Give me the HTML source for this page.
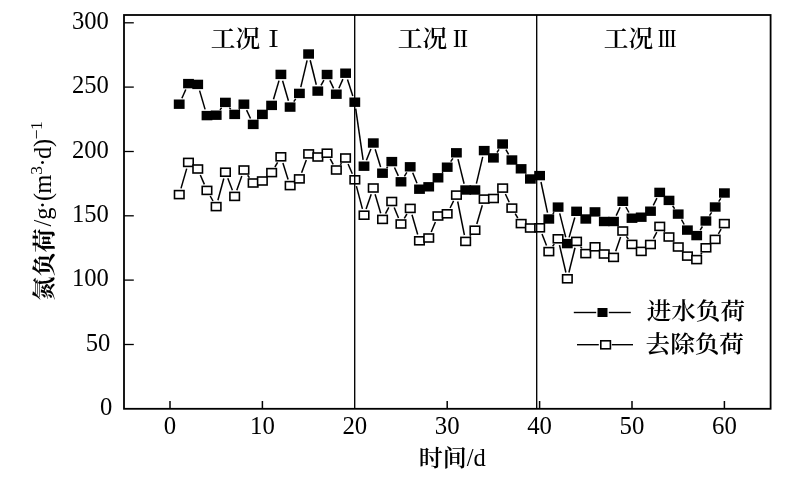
<!DOCTYPE html>
<html lang="zh"><head><meta charset="utf-8"><title>氮负荷</title>
<style>html,body{margin:0;padding:0;background:#fff;}body{width:800px;height:480px;overflow:hidden;}svg{display:block;}text{fill:#000;font-family:"Liberation Serif","Noto Serif CJK SC",serif;}.cj{font-family:"Liberation Serif","Noto Serif CJK SC",serif;}</style></head><body>
<svg width="800" height="480" viewBox="0 0 800 480">
<rect width="800" height="480" fill="#fff"/>
<rect x="124.0" y="15.0" width="646.6" height="393.8" fill="none" stroke="#000" stroke-width="1.8"/>
<line x1="124.0" y1="344.5" x2="133.8" y2="344.5" stroke="#000" stroke-width="1.3"/>
<line x1="124.0" y1="280.1" x2="133.8" y2="280.1" stroke="#000" stroke-width="1.3"/>
<line x1="124.0" y1="215.8" x2="133.8" y2="215.8" stroke="#000" stroke-width="1.3"/>
<line x1="124.0" y1="151.5" x2="133.8" y2="151.5" stroke="#000" stroke-width="1.3"/>
<line x1="124.0" y1="87.1" x2="133.8" y2="87.1" stroke="#000" stroke-width="1.3"/>
<line x1="124.0" y1="22.8" x2="133.8" y2="22.8" stroke="#000" stroke-width="1.3"/>
<text x="112.4" y="414.8" font-size="24.6" text-anchor="end">0</text>
<text x="110.3" y="350.5" font-size="24.6" text-anchor="end">50</text>
<text x="108.8" y="286.1" font-size="24.6" text-anchor="end">100</text>
<text x="108.8" y="221.8" font-size="24.6" text-anchor="end">150</text>
<text x="108.8" y="157.5" font-size="24.6" text-anchor="end">200</text>
<text x="108.8" y="93.1" font-size="24.6" text-anchor="end">250</text>
<text x="108.8" y="28.8" font-size="24.6" text-anchor="end">300</text>
<line x1="170.0" y1="408.8" x2="170.0" y2="401.0" stroke="#000" stroke-width="1.5"/>
<text x="170.0" y="433.5" font-size="24.8" text-anchor="middle">0</text>
<line x1="262.4" y1="408.8" x2="262.4" y2="401.0" stroke="#000" stroke-width="1.5"/>
<text x="262.4" y="433.5" font-size="24.8" text-anchor="middle">10</text>
<text x="354.8" y="433.5" font-size="24.8" text-anchor="middle">20</text>
<line x1="447.2" y1="408.8" x2="447.2" y2="401.0" stroke="#000" stroke-width="1.5"/>
<text x="447.2" y="433.5" font-size="24.8" text-anchor="middle">30</text>
<line x1="539.6" y1="408.8" x2="539.6" y2="401.0" stroke="#000" stroke-width="1.5"/>
<text x="539.6" y="433.5" font-size="24.8" text-anchor="middle">40</text>
<line x1="632.0" y1="408.8" x2="632.0" y2="401.0" stroke="#000" stroke-width="1.5"/>
<text x="632.0" y="433.5" font-size="24.8" text-anchor="middle">50</text>
<line x1="724.4" y1="408.8" x2="724.4" y2="401.0" stroke="#000" stroke-width="1.5"/>
<text x="724.4" y="433.5" font-size="24.8" text-anchor="middle">60</text>
<line x1="181.9" y1="98.3" x2="185.8" y2="89.5" stroke="#000" stroke-width="1.5"/>
<line x1="199.6" y1="90.6" x2="205.1" y2="109.4" stroke="#000" stroke-width="1.5"/>
<line x1="220.0" y1="109.9" x2="221.6" y2="107.7" stroke="#000" stroke-width="1.5"/>
<line x1="229.4" y1="107.6" x2="230.7" y2="109.2" stroke="#000" stroke-width="1.5"/>
<line x1="239.0" y1="109.6" x2="239.6" y2="109.0" stroke="#000" stroke-width="1.5"/>
<line x1="246.6" y1="110.1" x2="250.5" y2="118.5" stroke="#000" stroke-width="1.5"/>
<line x1="257.6" y1="119.6" x2="258.0" y2="119.2" stroke="#000" stroke-width="1.5"/>
<line x1="273.5" y1="99.2" x2="279.0" y2="80.6" stroke="#000" stroke-width="1.5"/>
<line x1="282.6" y1="80.7" x2="288.4" y2="100.8" stroke="#000" stroke-width="1.5"/>
<line x1="293.8" y1="101.7" x2="295.7" y2="98.8" stroke="#000" stroke-width="1.5"/>
<line x1="300.8" y1="87.1" x2="307.1" y2="60.3" stroke="#000" stroke-width="1.5"/>
<line x1="310.2" y1="60.3" x2="316.3" y2="84.8" stroke="#000" stroke-width="1.5"/>
<line x1="321.0" y1="85.4" x2="323.9" y2="80.2" stroke="#000" stroke-width="1.5"/>
<line x1="329.8" y1="80.4" x2="333.6" y2="88.3" stroke="#000" stroke-width="1.5"/>
<line x1="338.9" y1="88.3" x2="342.9" y2="79.1" stroke="#000" stroke-width="1.5"/>
<line x1="347.5" y1="79.4" x2="352.8" y2="96.0" stroke="#000" stroke-width="1.5"/>
<line x1="355.7" y1="108.6" x2="363.1" y2="159.8" stroke="#000" stroke-width="1.5"/>
<line x1="366.4" y1="160.2" x2="370.9" y2="149.0" stroke="#000" stroke-width="1.5"/>
<line x1="375.2" y1="149.2" x2="380.6" y2="167.0" stroke="#000" stroke-width="1.5"/>
<line x1="386.6" y1="168.1" x2="387.7" y2="166.7" stroke="#000" stroke-width="1.5"/>
<line x1="394.5" y1="167.5" x2="398.3" y2="175.9" stroke="#000" stroke-width="1.5"/>
<line x1="404.4" y1="176.3" x2="406.8" y2="172.3" stroke="#000" stroke-width="1.5"/>
<line x1="412.7" y1="172.8" x2="417.0" y2="183.2" stroke="#000" stroke-width="1.5"/>
<line x1="442.2" y1="172.9" x2="442.9" y2="172.1" stroke="#000" stroke-width="1.5"/>
<line x1="450.7" y1="161.7" x2="452.9" y2="158.3" stroke="#000" stroke-width="1.5"/>
<line x1="458.0" y1="159.1" x2="464.1" y2="183.7" stroke="#000" stroke-width="1.5"/>
<line x1="476.4" y1="183.7" x2="482.7" y2="156.9" stroke="#000" stroke-width="1.5"/>
<line x1="497.0" y1="152.5" x2="499.0" y2="149.4" stroke="#000" stroke-width="1.5"/>
<line x1="505.9" y1="149.6" x2="508.6" y2="154.4" stroke="#000" stroke-width="1.5"/>
<line x1="525.5" y1="173.6" x2="526.0" y2="174.2" stroke="#000" stroke-width="1.5"/>
<line x1="541.0" y1="182.0" x2="547.5" y2="212.6" stroke="#000" stroke-width="1.5"/>
<line x1="552.8" y1="213.9" x2="554.1" y2="212.2" stroke="#000" stroke-width="1.5"/>
<line x1="559.7" y1="213.4" x2="565.7" y2="237.3" stroke="#000" stroke-width="1.5"/>
<line x1="569.1" y1="237.4" x2="574.8" y2="217.5" stroke="#000" stroke-width="1.5"/>
<line x1="616.2" y1="215.6" x2="620.1" y2="207.2" stroke="#000" stroke-width="1.5"/>
<line x1="625.9" y1="207.0" x2="628.9" y2="212.5" stroke="#000" stroke-width="1.5"/>
<line x1="653.3" y1="205.4" x2="656.9" y2="198.2" stroke="#000" stroke-width="1.5"/>
<line x1="672.6" y1="205.8" x2="674.6" y2="208.7" stroke="#000" stroke-width="1.5"/>
<line x1="681.5" y1="219.7" x2="684.2" y2="224.5" stroke="#000" stroke-width="1.5"/>
<line x1="700.2" y1="230.1" x2="702.4" y2="226.5" stroke="#000" stroke-width="1.5"/>
<line x1="709.5" y1="215.6" x2="711.6" y2="212.4" stroke="#000" stroke-width="1.5"/>
<line x1="718.7" y1="201.6" x2="720.8" y2="198.4" stroke="#000" stroke-width="1.5"/>
<rect x="173.8" y="99.5" width="10.8" height="9.4" fill="#000"/>
<rect x="183.1" y="78.9" width="10.8" height="9.4" fill="#000"/>
<rect x="192.3" y="79.7" width="10.8" height="9.4" fill="#000"/>
<rect x="201.6" y="110.9" width="10.8" height="9.4" fill="#000"/>
<rect x="210.8" y="110.5" width="10.8" height="9.4" fill="#000"/>
<rect x="220.0" y="97.7" width="10.8" height="9.4" fill="#000"/>
<rect x="229.3" y="109.7" width="10.8" height="9.4" fill="#000"/>
<rect x="238.5" y="99.5" width="10.8" height="9.4" fill="#000"/>
<rect x="247.8" y="119.7" width="10.8" height="9.4" fill="#000"/>
<rect x="257.0" y="109.7" width="10.8" height="9.4" fill="#000"/>
<rect x="266.2" y="100.7" width="10.8" height="9.4" fill="#000"/>
<rect x="275.5" y="69.7" width="10.8" height="9.4" fill="#000"/>
<rect x="284.7" y="102.4" width="10.8" height="9.4" fill="#000"/>
<rect x="294.0" y="88.7" width="10.8" height="9.4" fill="#000"/>
<rect x="303.2" y="49.3" width="10.8" height="9.4" fill="#000"/>
<rect x="312.4" y="86.4" width="10.8" height="9.4" fill="#000"/>
<rect x="321.7" y="69.8" width="10.8" height="9.4" fill="#000"/>
<rect x="330.9" y="89.5" width="10.8" height="9.4" fill="#000"/>
<rect x="340.2" y="68.5" width="10.8" height="9.4" fill="#000"/>
<rect x="349.4" y="97.5" width="10.8" height="9.4" fill="#000"/>
<rect x="358.6" y="161.5" width="10.8" height="9.4" fill="#000"/>
<rect x="367.9" y="138.3" width="10.8" height="9.4" fill="#000"/>
<rect x="377.1" y="168.5" width="10.8" height="9.4" fill="#000"/>
<rect x="386.4" y="156.9" width="10.8" height="9.4" fill="#000"/>
<rect x="395.6" y="177.1" width="10.8" height="9.4" fill="#000"/>
<rect x="404.8" y="162.1" width="10.8" height="9.4" fill="#000"/>
<rect x="414.1" y="184.5" width="10.8" height="9.4" fill="#000"/>
<rect x="423.3" y="182.1" width="10.8" height="9.4" fill="#000"/>
<rect x="432.6" y="173.1" width="10.8" height="9.4" fill="#000"/>
<rect x="441.8" y="162.5" width="10.8" height="9.4" fill="#000"/>
<rect x="451.0" y="148.1" width="10.8" height="9.4" fill="#000"/>
<rect x="460.3" y="185.3" width="10.8" height="9.4" fill="#000"/>
<rect x="469.5" y="185.3" width="10.8" height="9.4" fill="#000"/>
<rect x="478.8" y="145.9" width="10.8" height="9.4" fill="#000"/>
<rect x="488.0" y="153.2" width="10.8" height="9.4" fill="#000"/>
<rect x="497.2" y="139.3" width="10.8" height="9.4" fill="#000"/>
<rect x="506.5" y="155.3" width="10.8" height="9.4" fill="#000"/>
<rect x="515.7" y="164.1" width="10.8" height="9.4" fill="#000"/>
<rect x="525.0" y="174.3" width="10.8" height="9.4" fill="#000"/>
<rect x="534.2" y="170.9" width="10.8" height="9.4" fill="#000"/>
<rect x="543.4" y="214.3" width="10.8" height="9.4" fill="#000"/>
<rect x="552.7" y="202.4" width="10.8" height="9.4" fill="#000"/>
<rect x="561.9" y="238.9" width="10.8" height="9.4" fill="#000"/>
<rect x="571.2" y="206.6" width="10.8" height="9.4" fill="#000"/>
<rect x="580.4" y="214.3" width="10.8" height="9.4" fill="#000"/>
<rect x="589.6" y="207.2" width="10.8" height="9.4" fill="#000"/>
<rect x="598.9" y="216.8" width="10.8" height="9.4" fill="#000"/>
<rect x="608.1" y="216.8" width="10.8" height="9.4" fill="#000"/>
<rect x="617.4" y="196.6" width="10.8" height="9.4" fill="#000"/>
<rect x="626.6" y="213.5" width="10.8" height="9.4" fill="#000"/>
<rect x="635.8" y="212.5" width="10.8" height="9.4" fill="#000"/>
<rect x="645.1" y="206.5" width="10.8" height="9.4" fill="#000"/>
<rect x="654.3" y="187.7" width="10.8" height="9.4" fill="#000"/>
<rect x="663.6" y="195.7" width="10.8" height="9.4" fill="#000"/>
<rect x="672.8" y="209.4" width="10.8" height="9.4" fill="#000"/>
<rect x="682.0" y="225.4" width="10.8" height="9.4" fill="#000"/>
<rect x="691.3" y="230.9" width="10.8" height="9.4" fill="#000"/>
<rect x="700.5" y="216.3" width="10.8" height="9.4" fill="#000"/>
<rect x="709.8" y="202.3" width="10.8" height="9.4" fill="#000"/>
<rect x="719.0" y="188.3" width="10.8" height="9.4" fill="#000"/>
<line x1="181.0" y1="188.4" x2="186.7" y2="168.6" stroke="#000" stroke-width="1.5"/>
<line x1="200.3" y1="175.0" x2="204.4" y2="184.4" stroke="#000" stroke-width="1.5"/>
<line x1="210.2" y1="196.0" x2="213.0" y2="201.0" stroke="#000" stroke-width="1.5"/>
<line x1="217.9" y1="200.3" x2="223.8" y2="178.5" stroke="#000" stroke-width="1.5"/>
<line x1="227.8" y1="178.3" x2="232.4" y2="190.3" stroke="#000" stroke-width="1.5"/>
<line x1="236.8" y1="190.3" x2="241.8" y2="176.1" stroke="#000" stroke-width="1.5"/>
<line x1="247.7" y1="175.3" x2="249.4" y2="177.7" stroke="#000" stroke-width="1.5"/>
<line x1="274.9" y1="167.0" x2="277.6" y2="162.4" stroke="#000" stroke-width="1.5"/>
<line x1="282.9" y1="163.0" x2="288.1" y2="179.4" stroke="#000" stroke-width="1.5"/>
<line x1="301.6" y1="172.8" x2="306.3" y2="160.0" stroke="#000" stroke-width="1.5"/>
<line x1="330.2" y1="158.9" x2="333.2" y2="164.3" stroke="#000" stroke-width="1.5"/>
<line x1="340.3" y1="164.8" x2="341.6" y2="163.2" stroke="#000" stroke-width="1.5"/>
<line x1="348.1" y1="164.0" x2="352.3" y2="173.8" stroke="#000" stroke-width="1.5"/>
<line x1="356.4" y1="186.1" x2="362.4" y2="208.9" stroke="#000" stroke-width="1.5"/>
<line x1="366.1" y1="209.0" x2="371.2" y2="194.2" stroke="#000" stroke-width="1.5"/>
<line x1="375.1" y1="194.2" x2="380.7" y2="213.2" stroke="#000" stroke-width="1.5"/>
<line x1="385.5" y1="213.6" x2="388.8" y2="207.3" stroke="#000" stroke-width="1.5"/>
<line x1="394.2" y1="207.5" x2="398.5" y2="218.0" stroke="#000" stroke-width="1.5"/>
<line x1="404.3" y1="218.4" x2="406.9" y2="214.0" stroke="#000" stroke-width="1.5"/>
<line x1="412.0" y1="214.7" x2="417.7" y2="234.5" stroke="#000" stroke-width="1.5"/>
<line x1="431.2" y1="232.0" x2="435.4" y2="222.0" stroke="#000" stroke-width="1.5"/>
<line x1="450.1" y1="208.0" x2="453.6" y2="200.9" stroke="#000" stroke-width="1.5"/>
<line x1="457.7" y1="201.5" x2="464.4" y2="235.0" stroke="#000" stroke-width="1.5"/>
<line x1="469.8" y1="236.4" x2="470.8" y2="235.2" stroke="#000" stroke-width="1.5"/>
<line x1="476.8" y1="224.0" x2="482.3" y2="205.3" stroke="#000" stroke-width="1.5"/>
<line x1="497.7" y1="193.6" x2="498.3" y2="193.0" stroke="#000" stroke-width="1.5"/>
<line x1="505.4" y1="194.0" x2="509.2" y2="202.2" stroke="#000" stroke-width="1.5"/>
<line x1="515.2" y1="213.7" x2="517.8" y2="218.0" stroke="#000" stroke-width="1.5"/>
<line x1="542.0" y1="233.9" x2="546.5" y2="245.5" stroke="#000" stroke-width="1.5"/>
<line x1="552.6" y1="246.3" x2="554.3" y2="244.1" stroke="#000" stroke-width="1.5"/>
<line x1="559.5" y1="245.1" x2="565.9" y2="272.5" stroke="#000" stroke-width="1.5"/>
<line x1="568.9" y1="272.5" x2="575.0" y2="247.7" stroke="#000" stroke-width="1.5"/>
<line x1="580.5" y1="246.6" x2="581.9" y2="248.4" stroke="#000" stroke-width="1.5"/>
<line x1="615.7" y1="251.3" x2="620.6" y2="237.1" stroke="#000" stroke-width="1.5"/>
<line x1="626.4" y1="236.4" x2="628.3" y2="239.0" stroke="#000" stroke-width="1.5"/>
<line x1="653.4" y1="238.7" x2="656.8" y2="232.2" stroke="#000" stroke-width="1.5"/>
<line x1="664.0" y1="231.3" x2="664.7" y2="232.1" stroke="#000" stroke-width="1.5"/>
<line x1="673.4" y1="241.8" x2="673.8" y2="242.2" stroke="#000" stroke-width="1.5"/>
<line x1="700.7" y1="254.5" x2="701.9" y2="252.9" stroke="#000" stroke-width="1.5"/>
<line x1="718.4" y1="233.8" x2="721.1" y2="229.2" stroke="#000" stroke-width="1.5"/>
<rect x="174.5" y="190.6" width="9.5" height="8.0" fill="#fff" stroke="#000" stroke-width="1.6"/>
<rect x="183.7" y="158.4" width="9.5" height="8.0" fill="#fff" stroke="#000" stroke-width="1.6"/>
<rect x="193.0" y="165.0" width="9.5" height="8.0" fill="#fff" stroke="#000" stroke-width="1.6"/>
<rect x="202.2" y="186.4" width="9.5" height="8.0" fill="#fff" stroke="#000" stroke-width="1.6"/>
<rect x="211.4" y="202.6" width="9.5" height="8.0" fill="#fff" stroke="#000" stroke-width="1.6"/>
<rect x="220.7" y="168.2" width="9.5" height="8.0" fill="#fff" stroke="#000" stroke-width="1.6"/>
<rect x="229.9" y="192.4" width="9.5" height="8.0" fill="#fff" stroke="#000" stroke-width="1.6"/>
<rect x="239.2" y="166.0" width="9.5" height="8.0" fill="#fff" stroke="#000" stroke-width="1.6"/>
<rect x="248.4" y="179.0" width="9.5" height="8.0" fill="#fff" stroke="#000" stroke-width="1.6"/>
<rect x="257.6" y="177.0" width="9.5" height="8.0" fill="#fff" stroke="#000" stroke-width="1.6"/>
<rect x="266.9" y="168.6" width="9.5" height="8.0" fill="#fff" stroke="#000" stroke-width="1.6"/>
<rect x="276.1" y="152.8" width="9.5" height="8.0" fill="#fff" stroke="#000" stroke-width="1.6"/>
<rect x="285.4" y="181.6" width="9.5" height="8.0" fill="#fff" stroke="#000" stroke-width="1.6"/>
<rect x="294.6" y="174.9" width="9.5" height="8.0" fill="#fff" stroke="#000" stroke-width="1.6"/>
<rect x="303.9" y="149.9" width="9.5" height="8.0" fill="#fff" stroke="#000" stroke-width="1.6"/>
<rect x="313.1" y="153.0" width="9.5" height="8.0" fill="#fff" stroke="#000" stroke-width="1.6"/>
<rect x="322.3" y="149.2" width="9.5" height="8.0" fill="#fff" stroke="#000" stroke-width="1.6"/>
<rect x="331.6" y="166.0" width="9.5" height="8.0" fill="#fff" stroke="#000" stroke-width="1.6"/>
<rect x="340.8" y="154.0" width="9.5" height="8.0" fill="#fff" stroke="#000" stroke-width="1.6"/>
<rect x="350.1" y="175.8" width="9.5" height="8.0" fill="#fff" stroke="#000" stroke-width="1.6"/>
<rect x="359.3" y="211.2" width="9.5" height="8.0" fill="#fff" stroke="#000" stroke-width="1.6"/>
<rect x="368.5" y="184.0" width="9.5" height="8.0" fill="#fff" stroke="#000" stroke-width="1.6"/>
<rect x="377.8" y="215.4" width="9.5" height="8.0" fill="#fff" stroke="#000" stroke-width="1.6"/>
<rect x="387.0" y="197.5" width="9.5" height="8.0" fill="#fff" stroke="#000" stroke-width="1.6"/>
<rect x="396.2" y="220.0" width="9.5" height="8.0" fill="#fff" stroke="#000" stroke-width="1.6"/>
<rect x="405.5" y="204.4" width="9.5" height="8.0" fill="#fff" stroke="#000" stroke-width="1.6"/>
<rect x="414.7" y="236.8" width="9.5" height="8.0" fill="#fff" stroke="#000" stroke-width="1.6"/>
<rect x="424.0" y="234.0" width="9.5" height="8.0" fill="#fff" stroke="#000" stroke-width="1.6"/>
<rect x="433.2" y="212.0" width="9.5" height="8.0" fill="#fff" stroke="#000" stroke-width="1.6"/>
<rect x="442.4" y="209.8" width="9.5" height="8.0" fill="#fff" stroke="#000" stroke-width="1.6"/>
<rect x="451.7" y="191.1" width="9.5" height="8.0" fill="#fff" stroke="#000" stroke-width="1.6"/>
<rect x="460.9" y="237.4" width="9.5" height="8.0" fill="#fff" stroke="#000" stroke-width="1.6"/>
<rect x="470.2" y="226.2" width="9.5" height="8.0" fill="#fff" stroke="#000" stroke-width="1.6"/>
<rect x="479.4" y="195.1" width="9.5" height="8.0" fill="#fff" stroke="#000" stroke-width="1.6"/>
<rect x="488.7" y="194.5" width="9.5" height="8.0" fill="#fff" stroke="#000" stroke-width="1.6"/>
<rect x="497.9" y="184.1" width="9.5" height="8.0" fill="#fff" stroke="#000" stroke-width="1.6"/>
<rect x="507.1" y="204.1" width="9.5" height="8.0" fill="#fff" stroke="#000" stroke-width="1.6"/>
<rect x="516.4" y="219.6" width="9.5" height="8.0" fill="#fff" stroke="#000" stroke-width="1.6"/>
<rect x="525.6" y="224.0" width="9.5" height="8.0" fill="#fff" stroke="#000" stroke-width="1.6"/>
<rect x="534.9" y="223.8" width="9.5" height="8.0" fill="#fff" stroke="#000" stroke-width="1.6"/>
<rect x="544.1" y="247.6" width="9.5" height="8.0" fill="#fff" stroke="#000" stroke-width="1.6"/>
<rect x="553.3" y="234.8" width="9.5" height="8.0" fill="#fff" stroke="#000" stroke-width="1.6"/>
<rect x="562.6" y="274.8" width="9.5" height="8.0" fill="#fff" stroke="#000" stroke-width="1.6"/>
<rect x="571.8" y="237.4" width="9.5" height="8.0" fill="#fff" stroke="#000" stroke-width="1.6"/>
<rect x="581.0" y="249.6" width="9.5" height="8.0" fill="#fff" stroke="#000" stroke-width="1.6"/>
<rect x="590.3" y="242.8" width="9.5" height="8.0" fill="#fff" stroke="#000" stroke-width="1.6"/>
<rect x="599.5" y="250.0" width="9.5" height="8.0" fill="#fff" stroke="#000" stroke-width="1.6"/>
<rect x="608.8" y="253.4" width="9.5" height="8.0" fill="#fff" stroke="#000" stroke-width="1.6"/>
<rect x="618.0" y="227.0" width="9.5" height="8.0" fill="#fff" stroke="#000" stroke-width="1.6"/>
<rect x="627.2" y="240.4" width="9.5" height="8.0" fill="#fff" stroke="#000" stroke-width="1.6"/>
<rect x="636.5" y="247.4" width="9.5" height="8.0" fill="#fff" stroke="#000" stroke-width="1.6"/>
<rect x="645.7" y="240.5" width="9.5" height="8.0" fill="#fff" stroke="#000" stroke-width="1.6"/>
<rect x="655.0" y="222.4" width="9.5" height="8.0" fill="#fff" stroke="#000" stroke-width="1.6"/>
<rect x="664.2" y="233.0" width="9.5" height="8.0" fill="#fff" stroke="#000" stroke-width="1.6"/>
<rect x="673.5" y="243.0" width="9.5" height="8.0" fill="#fff" stroke="#000" stroke-width="1.6"/>
<rect x="682.7" y="252.1" width="9.5" height="8.0" fill="#fff" stroke="#000" stroke-width="1.6"/>
<rect x="691.9" y="255.6" width="9.5" height="8.0" fill="#fff" stroke="#000" stroke-width="1.6"/>
<rect x="701.2" y="243.8" width="9.5" height="8.0" fill="#fff" stroke="#000" stroke-width="1.6"/>
<rect x="710.4" y="235.4" width="9.5" height="8.0" fill="#fff" stroke="#000" stroke-width="1.6"/>
<rect x="719.6" y="219.6" width="9.5" height="8.0" fill="#fff" stroke="#000" stroke-width="1.6"/>
<line x1="354.7" y1="15.0" x2="354.7" y2="408.8" stroke="#000" stroke-width="1.35"/>
<line x1="536.7" y1="15.0" x2="536.7" y2="408.8" stroke="#000" stroke-width="1.35"/>
<text transform="translate(210.8,47) scale(1.03,1)" font-size="24" class="cj" font-weight="600">工况</text><text transform="translate(262.5,47) scale(1,1)" font-size="22" class="cj" font-weight="600">Ⅰ</text>
<text transform="translate(397.8,47) scale(1.03,1)" font-size="24" class="cj" font-weight="600">工况</text><text transform="translate(450.3,47) scale(0.93,1)" font-size="22" class="cj" font-weight="600">Ⅱ</text>
<text transform="translate(603.8,47) scale(1.03,1)" font-size="24" class="cj" font-weight="600">工况</text><text transform="translate(657.7,47) scale(0.85,1)" font-size="22" class="cj" font-weight="600">Ⅲ</text>
<line x1="573.8" y1="312.5" x2="596.2" y2="312.5" stroke="#000" stroke-width="1.4"/><line x1="608.8" y1="312.5" x2="630.8" y2="312.5" stroke="#000" stroke-width="1.4"/>
<rect x="597.5" y="308" width="10" height="9" fill="#000"/>
<line x1="577" y1="344.7" x2="598.8" y2="344.7" stroke="#000" stroke-width="1.4"/><line x1="611.8" y1="344.7" x2="633" y2="344.7" stroke="#000" stroke-width="1.4"/>
<rect x="600.8" y="340.8" width="9.6" height="8.0" fill="#fff" stroke="#000" stroke-width="1.6"/>
<text transform="translate(646.7,319.2) scale(1.06,1)" font-size="23.2" class="cj" font-weight="600">进水负荷</text>
<text transform="translate(645.6,351.6) scale(1.06,1)" font-size="23.2" class="cj" font-weight="600">去除负荷</text>
<text transform="translate(418.8,466) scale(1.035,1)" font-size="23.2" class="cj" font-weight="600">时间</text>
<text x="466.8" y="466" font-size="24.5">/d</text>
<text transform="translate(51.5,300.4) rotate(-90) scale(1.035,1)" font-size="23.2" class="cj" font-weight="700">氮负荷</text>
<text transform="translate(51,227.9) rotate(-90)" font-size="24.5" x="1.35 8.05 18.95 26.9 34.16">/g·(m<tspan font-size="17.5" x="53.24" dy="-9">3</tspan><tspan x="61.44 68.79 80.99" dy="9">·d)</tspan><tspan font-size="17.5" x="88.67 97.88" dy="-9">−1</tspan></text>
</svg></body></html>
